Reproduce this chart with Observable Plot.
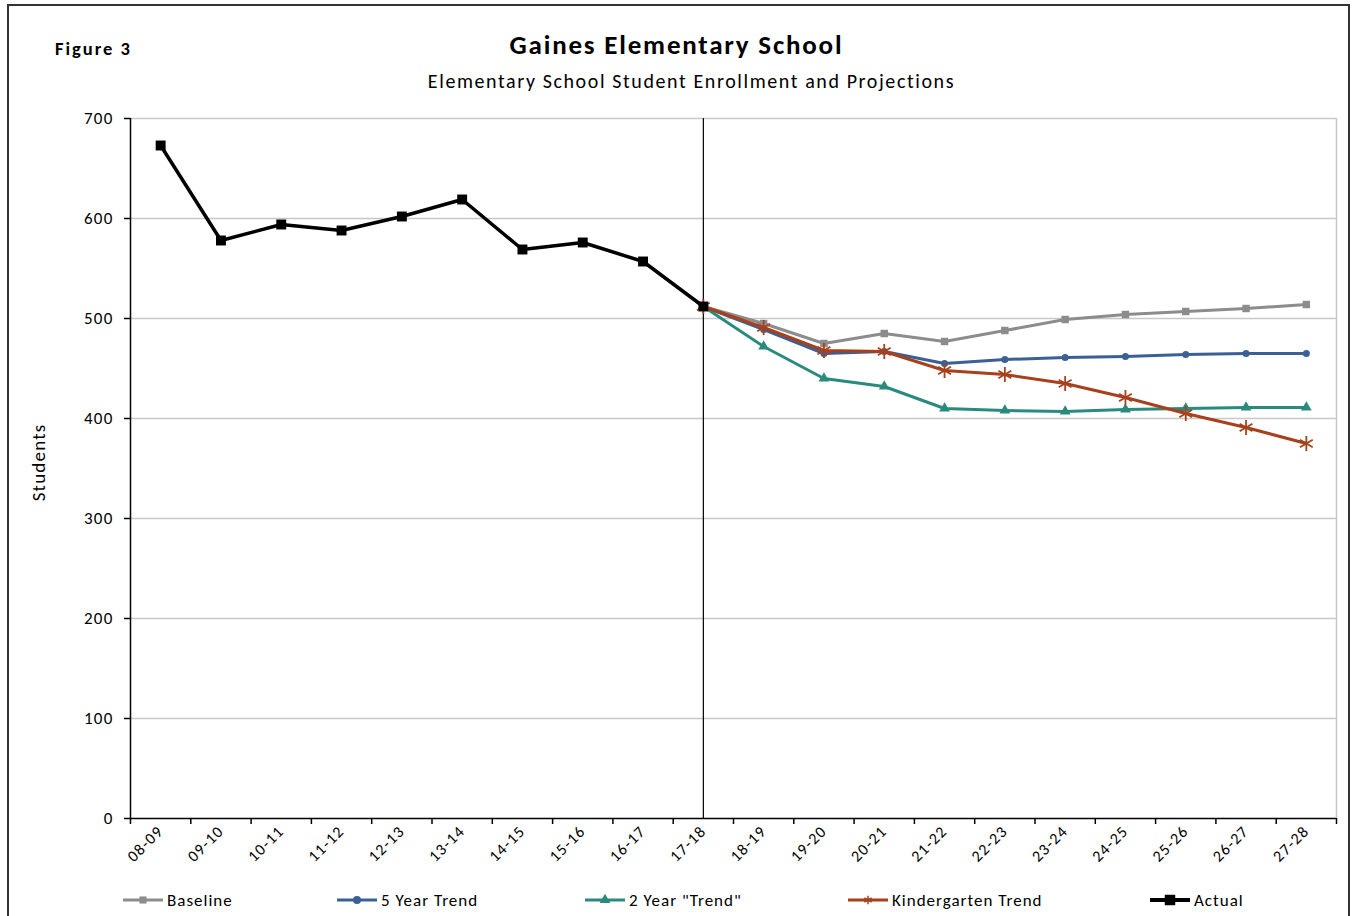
<!DOCTYPE html>
<html><head><meta charset="utf-8">
<script src="https://cdn.jsdelivr.net/npm/d3@7"></script>
<script src="https://cdn.jsdelivr.net/npm/@observablehq/plot@0.6"></script>
<style>
body{margin:0;background:#fff;font-family:Carlito,Lato,"Open Sans",sans-serif;}
#page{position:relative;width:1353px;height:916px;overflow:hidden;}
#frame{position:absolute;left:7px;top:4px;width:1343px;height:940px;border:2px solid #333;box-sizing:border-box;}
.t{position:absolute;white-space:nowrap;color:#000;}
#fig{left:55px;top:37px;font-size:18.5px;font-weight:bold;letter-spacing:2px;}
#title{left:0;width:1353px;text-align:center;top:28px;font-size:27px;font-weight:bold;letter-spacing:1.8px;}
#sub{left:15px;width:1353px;text-align:center;top:69px;font-size:20px;letter-spacing:1.6px;}
#chart{position:absolute;left:0;top:100px;}
.leg{position:absolute;top:890px;height:20px;display:flex;align-items:center;font-size:17px;letter-spacing:1px;}
.leg svg{margin-right:4px;}
</style></head>
<body>
<div id="page">
<div id="frame"></div>
<div class="t" id="fig">Figure 3</div>
<div class="t" id="title">Gaines Elementary School</div>
<div class="t" id="sub">Elementary School Student Enrollment and Projections</div>
<div id="chart"></div>
<div id="legend"></div>
</div>
<script>
const years = ["08-09","09-10","10-11","11-12","12-13","13-14","14-15","15-16","16-17","17-18",
  "18-19","19-20","20-21","21-22","22-23","23-24","24-25","25-26","26-27","27-28"];
const yTicks = [0,100,200,300,400,500,600,700];
// Actual enrollment 08-09 .. 17-18
const actual = [673,578,594,588,602,619,569,576,557,512];
// Projections 17-18 .. 27-28
const baseline = [512,495,475,485,477,488,499,504,507,510,514];
const fiveYear = [512,489,465,467,455,459,461,462,464,465,465];
const twoYear = [512,472,440,432,410,408,407,409,410,411,411];
const kinder = [512,491,468,467,448,444,435,421,405,391,375];

const seriesNames = ["Baseline","5 Year Trend","2 Year \"Trend\"","Kindergarten Trend","Actual"];
const colors = ["#8c8c8c","#3a6096","#2a8a7c","#a8401c","#000000"];
const symbols = ["square","circle","triangle","asterisk","square"];

const toRows = (vals, start) => vals.map((v,k)=>({i:start+k, v}));
const series = [
  {rows: toRows(baseline,9), w:3, r:4.2},
  {rows: toRows(fiveYear,9), w:3, r:3.5},
  {rows: toRows(twoYear,9), w:3, r:4},
  {rows: toRows(kinder,9), w:3, r:7},
  {rows: toRows(actual,0), w:3.5, r:5.6}
];

const font = "Carlito,Lato,'Open Sans',sans-serif";
const marks = [
  Plot.gridY(yTicks.filter(d=>d>0), {stroke:"#c8c8c8", strokeOpacity:1, strokeWidth:1.5}),
  Plot.ruleX([19.5], {stroke:"#c8c8c8", strokeWidth:1.5, y1:0, y2:700}),
  Plot.axisY(yTicks, {tickSize:6, tickPadding:11, fontSize:17, label:null, stroke:"#000", strokeWidth:1.5}),
  Plot.axisX(d3.range(-0.5, 20, 1), {tickSize:6, tickFormat:()=>"", label:null, strokeWidth:1.5}),
  Plot.axisX(d3.range(0,20), {tickSize:0, tickPadding:10, tickRotate:-45, fontSize:16, tickFormat:i=>years[i], label:null}),
  Plot.ruleX([-0.5], {stroke:"#000", strokeWidth:1.5, y1:0, y2:700}),
  Plot.ruleY([0], {stroke:"#000", strokeWidth:1.5}),
  Plot.ruleX([9], {stroke:"#000", strokeWidth:1.2, y1:0, y2:700}),
  Plot.text(["Students"], {frameAnchor:"left", dx:-92, dy:-6, rotate:-90, textAnchor:"middle", fontSize:19, fill:"#000"})
];
series.forEach((s,k)=>{
  marks.push(Plot.line(s.rows, {x:"i", y:"v", stroke:colors[k], strokeWidth:s.w}));
  const isStroke = symbols[k]==="asterisk";
  marks.push(Plot.dot(s.rows, {x:"i", y:"v", symbol:()=>symbols[k], r:s.r,
    fill: isStroke ? "none" : colors[k], stroke: isStroke ? colors[k] : "none", strokeWidth: isStroke?1.8:0}));
});

const chart = Plot.plot({
  width:1353, height:816,
  marginTop:18, marginBottom:98, marginLeft:130, marginRight:17,
  style:{fontFamily:font, background:"transparent", color:"#000", overflow:"visible", letterSpacing:"1.2px"},
  x:{type:"linear", domain:[-0.5,19.5], axis:null},
  y:{domain:[0,700], axis:null},
  symbol:{type:"identity"},
  marks
});
document.getElementById("chart").appendChild(chart);

// Legend
const legX = [123, 337, 585, 848, 1150];
const legend = document.getElementById("legend");
seriesNames.forEach((name,k)=>{
  const div = document.createElement("div");
  div.className = "leg";
  div.style.left = legX[k]+"px";
  const w = 40, h = 20;
  const svg = d3.create("svg").attr("width",w).attr("height",h);
  svg.append("line").attr("x1",0).attr("x2",w).attr("y1",h/2).attr("y2",h/2)
    .attr("stroke",colors[k]).attr("stroke-width", k===4?4:3);
  const sz = k===4 ? 110 : 50;
  const sym = {square:d3.symbolSquare,circle:d3.symbolCircle,triangle:d3.symbolTriangle,asterisk:d3.symbolAsterisk}[symbols[k]];
  const p = svg.append("path").attr("d", d3.symbol(sym, sz)()).attr("transform",`translate(${w/2},${h/2})`);
  if (symbols[k]==="asterisk") p.attr("fill","none").attr("stroke",colors[k]).attr("stroke-width",1.5);
  else p.attr("fill",colors[k]);
  div.appendChild(svg.node());
  const span = document.createElement("span");
  span.textContent = name;
  div.appendChild(span);
  legend.appendChild(div);
});
</script>
</body></html>
